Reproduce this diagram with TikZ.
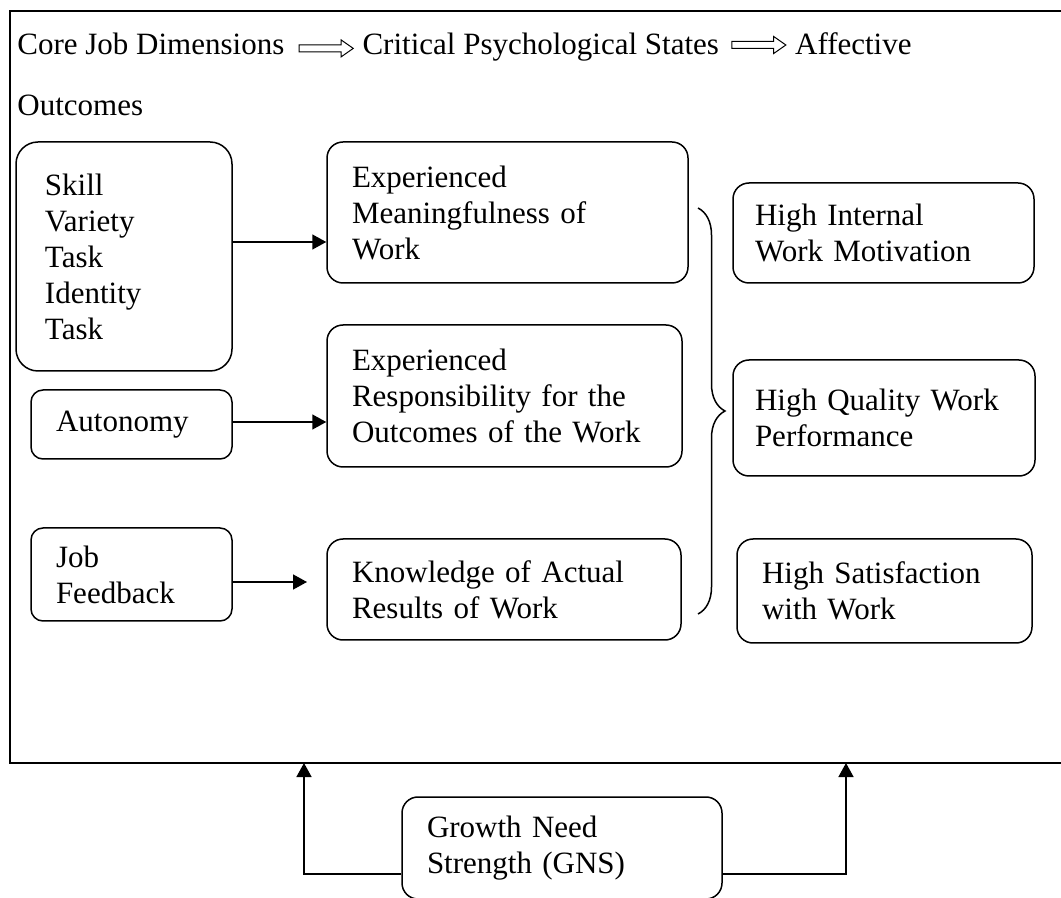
\documentclass[tikz,border=0pt]{standalone}
\usepackage{fontspec}
\setmainfont{Liberation Serif}
\usetikzlibrary{arrows.meta,positioning,shapes.arrows,decorations.pathreplacing}
\tikzset{
    %Define standard arrow tip
    >={Triangle[length=7pt,width=7.5pt]},
    %Define style for boxes
    jobbox/.style={
           rectangle,
           rounded corners=8pt,
           draw=black, line width=0.75pt,
           inner xsep=12.5pt,
           inner ysep=0pt,
           align=left},
    heading/.style={
           inner sep=0pt,
           anchor=base west},
    hollow/.style={
           single arrow,
           draw=black, line width=0.5pt,
           minimum height=27pt,
           inner sep=1.5pt,
           single arrow head extend=2.5pt,
           single arrow tip angle=70},
    % Define arrow style
    link/.style={
           ->,
           line width=0.75pt},
    bracket/.style={
           decorate,
           decoration={brace,amplitude=13.5pt},
           line width=0.75pt}
}

\begin{document}
\begin{tikzpicture}[x=0.5pt,y=-0.5pt,font=\fontsize{15.5}{18}\selectfont]
\useasboundingbox (0,0) rectangle (1061,898);
\draw[line width=1.2pt] (1065,11) -- (10,11) -- (10,763) -- (1065,763);
% heading
\node[heading] (cjd) at (17,55) {Core Job Dimensions};
\node[hollow, right=7pt of cjd, yshift=-2pt] (arr1) {};
\node[heading, xshift=4pt] (crit) at (arr1.east |- cjd.base) {Critical Psychological States};
\node[hollow, right=6pt of crit.base east, anchor=west, yshift=5pt] (arr2) {};
\node[heading, xshift=4pt] (aff) at (arr2.east |- cjd.base) {Affective};
\node[heading] (outc) at (17,116) {Outcomes};
% core job dimensions
\node[jobbox, rounded corners=11pt, inner xsep=14.5pt, text width=79pt, minimum height=114.5pt] (skill) at (124,256.5) {Skill\\Variety\\Task\\Identity\\Task};
\node[jobbox, rounded corners=6pt, text width=75.5pt, minimum height=34.5pt] (auto) at (131.5,424.5) {Autonomy};
\node[jobbox, rounded corners=6pt, text width=75.5pt, minimum height=46.5pt] (jobfb) at (131.5,574.5) {Job\\Feedback};
% psychological states
\node[jobbox, text width=155.5pt, minimum height=70.5pt] (meaning) at (507.5,212.5) {Experienced\\Meaningfulness of\\Work};
\node[jobbox, text width=152.5pt, minimum height=71pt] (resp) at (504.5,396) {Experienced\\Responsibility for the\\Outcomes of the Work};
\node[jobbox, text width=152pt, minimum height=50.5pt] (know) at (504,589.5) {Knowledge of Actual\\Results of Work};
% outcomes
\node[jobbox, inner xsep=11pt, text width=128.5pt, minimum height=50pt] (motiv) at (883.5,233) {High Internal\\Work Motivation};
\node[jobbox, inner xsep=11pt, text width=129pt, minimum height=58pt] (quality) at (884,418) {High Quality Work\\Performance};
\node[jobbox, text width=122.5pt, minimum height=52pt] (satis) at (884.5,591) {High Satisfaction\\with Work};
% moderator
\node[jobbox, text width=135pt, minimum height=51pt] (gns) at (562,848) {Growth Need\\Strength (GNS)};
\coordinate (lhit) at (304,763);
\coordinate (rhit) at (846,763);
\path[link]
	(skill.east |- 0,242) edge (meaning.west |- 0,242)
	(auto.east |- 0,422) edge (resp.west |- 0,422)
	(jobfb.east |- 0,582) edge (307,582);
\draw[link] (gns.west |- 0,874) -| (lhit);
\draw[link] (gns.east |- 0,874) -| (rhit);
\draw[bracket] (698,208) -- (698,614);
\end{tikzpicture}
\end{document}
